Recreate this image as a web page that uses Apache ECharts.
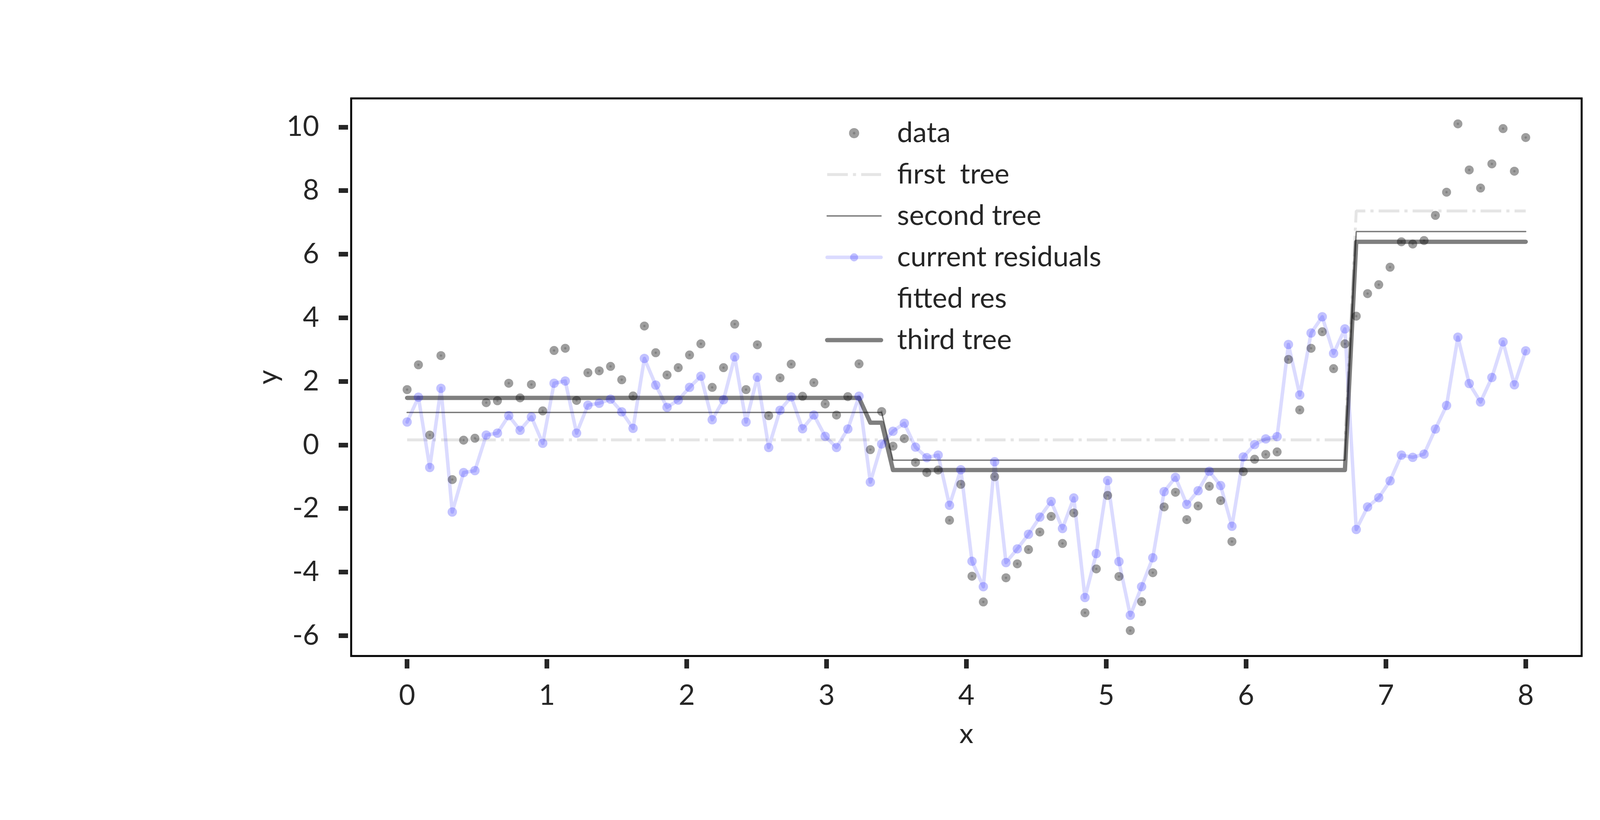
<!DOCTYPE html>
<html>
<head>
<meta charset="utf-8">
<script src="https://cdn.jsdelivr.net/npm/echarts@6/dist/echarts.min.js"></script>
<style>
html,body{margin:0;padding:0;background:#fff;}
#chart{width:4500px;height:2100px;}
</style>
</head>
<body>
<div id="chart"></div>
<script>
// x positions of the samples
const xs = [0,0.081,0.162,0.242,0.323,0.404,0.485,0.566,0.646,0.727,
0.808,0.889,0.970,1.051,1.131,1.212,1.293,1.374,1.455,1.535,
1.616,1.697,1.778,1.859,1.939,2.020,2.101,2.182,2.263,2.343,
2.424,2.505,2.586,2.667,2.747,2.828,2.909,2.990,3.071,3.152,
3.232,3.313,3.394,3.475,3.556,3.636,3.717,3.798,3.879,3.960,
4.040,4.121,4.202,4.283,4.364,4.444,4.525,4.606,4.687,4.768,
4.848,4.929,5.010,5.091,5.172,5.253,5.333,5.414,5.495,5.576,
5.657,5.737,5.818,5.899,5.980,6.061,6.141,6.222,6.303,6.384,
6.465,6.545,6.626,6.707,6.788,6.869,6.949,7.030,7.111,7.192,
7.273,7.354,7.434,7.515,7.596,7.677,7.758,7.838,7.919,8.000];

// observed data
const dataY = [1.74,2.52,0.31,2.81,-1.09,0.15,0.21,1.33,1.39,1.94,
1.48,1.90,1.07,2.97,3.04,1.40,2.27,2.33,2.47,2.05,
1.54,3.74,2.90,2.20,2.43,2.83,3.18,1.81,2.43,3.80,
1.74,3.15,0.92,2.11,2.54,1.53,1.96,1.29,0.94,1.52,
2.55,-0.15,1.05,-0.04,0.20,-0.55,-0.87,-0.79,-2.37,-1.24,
-4.13,-4.94,-1.00,-4.18,-3.74,-3.29,-2.74,-2.25,-3.10,-2.14,
-5.28,-3.90,-1.59,-4.14,-5.84,-4.93,-4.02,-1.95,-1.49,-2.35,
-1.92,-1.30,-1.75,-3.04,-0.84,-0.45,-0.30,-0.22,2.69,1.10,
3.04,3.56,2.40,3.18,4.05,4.76,5.04,5.59,6.39,6.32,
6.43,7.22,7.95,10.10,8.65,8.08,8.84,9.95,8.61,9.67];

// current residuals
const residY = [0.72,1.50,-0.71,1.78,-2.11,-0.87,-0.81,0.31,0.37,0.92,
0.46,0.88,0.05,1.94,2.01,0.37,1.25,1.31,1.44,1.04,
0.52,2.72,1.88,1.18,1.41,1.81,2.16,0.79,1.42,2.77,
0.72,2.13,-0.08,1.09,1.51,0.51,0.94,0.27,-0.08,0.50,
1.53,-1.17,0.03,0.43,0.68,-0.07,-0.40,-0.32,-1.90,-0.78,
-3.66,-4.46,-0.53,-3.70,-3.27,-2.81,-2.27,-1.78,-2.63,-1.67,
-4.80,-3.42,-1.12,-3.67,-5.36,-4.46,-3.55,-1.47,-1.02,-1.87,
-1.44,-0.83,-1.28,-2.56,-0.38,0.01,0.19,0.26,3.16,1.57,
3.52,4.03,2.88,3.65,-2.66,-1.95,-1.66,-1.13,-0.32,-0.39,
-0.29,0.50,1.24,3.39,1.93,1.35,2.12,3.24,1.89,2.96];

// step fits (breakpoints)
const firstTreeX = [0, 6.707, 6.788, 8];
const firstTreeY = [0.16, 0.16, 7.36, 7.36];
const secondTreeX = [0, 3.394, 3.475, 6.707, 6.788, 8];
const secondTreeY = [1.02, 1.02, -0.48, -0.48, 6.71, 6.71];
const thirdTreeX = [0, 3.232, 3.313, 3.394, 3.475, 6.707, 6.788, 8];
const thirdTreeY = [1.48, 1.48, 0.70, 0.70, -0.79, -0.79, 6.39, 6.39];

// axis ticks
const xTicks = [0,1,2,3,4,5,6,7,8];
const yTicks = [-6,-4,-2,0,2,4,6,8,10];

const zip = (a, b) => a.map((v, i) => [v, b[i]]);

const FONT = 'Lato';
const TXT = '#262626';
const FS = 72;

const chart = echarts.init(document.getElementById('chart'), null, {renderer: 'canvas'});

const dotColor = {
  type: 'radial', x: 0.5, y: 0.5, r: 0.5,
  colorStops: [
    {offset: 0, color: 'rgba(0,0,0,0.62)'},
    {offset: 0.22, color: 'rgba(0,0,0,0.62)'},
    {offset: 0.3, color: 'rgba(0,0,0,0.48)'},
    {offset: 1, color: 'rgba(0,0,0,0.48)'}
  ]
};

const option = {
  animation: false,
  backgroundColor: '#ffffff',
  grid: {
    left: 899, top: 252, width: 3150, height: 1428,
    show: true, borderColor: '#000', borderWidth: 5, backgroundColor: 'transparent'
  },
  xAxis: {
    type: 'value', min: -0.4, max: 8.4, offset: 8, position: 'bottom',
    axisLine: {show: false, onZero: false},
    splitLine: {show: false},
    axisTick: {show: true, customValues: xTicks, length: 24, lineStyle: {color: TXT, width: 12}},
    axisLabel: {customValues: xTicks, fontSize: FS, fontFamily: FONT, color: TXT, margin: 58},
    name: 'x', nameLocation: 'middle', nameGap: 156,
    nameTextStyle: {fontSize: FS, fontFamily: FONT, color: TXT}
  },
  yAxis: {
    type: 'value', min: -6.64, max: 10.9, offset: 8, position: 'left',
    axisLine: {show: false, onZero: false},
    splitLine: {show: false},
    axisTick: {show: true, customValues: yTicks, length: 24, lineStyle: {color: TXT, width: 12}},
    axisLabel: {customValues: yTicks, fontSize: FS, fontFamily: FONT, color: TXT, margin: 74},
    name: 'y', nameLocation: 'middle', nameGap: 148, nameRotate: 90,
    nameTextStyle: {fontSize: FS, fontFamily: FONT, color: TXT}
  },
  legend: {
    orient: 'vertical', left: 2112, top: 301, padding: 0,
    itemWidth: 138, itemHeight: 26, itemGap: 26,
    selectedMode: false,
    textStyle: {fontSize: FS, fontFamily: FONT, color: TXT, lineHeight: 80, padding: [0, 0, 0, 36]},
    lineStyle: {width: 'inherit', type: 'inherit', cap: 'inherit'},
    data: [
      {name: 'data', icon: 'circle'},
      {name: 'first  tree'},
      {name: 'second tree'},
      {name: 'current residuals'},
      {name: 'fitted res'},
      {name: 'third tree'}
    ]
  },
  series: [
    {
      name: 'data', type: 'scatter', data: zip(xs, dataY),
      symbol: 'circle', symbolSize: 23,
      itemStyle: {color: dotColor}, z: 2
    },
    {
      name: 'first  tree', type: 'line', data: zip(firstTreeX, firstTreeY),
      showSymbol: false, symbol: 'none', itemStyle: {color: 'rgba(0,0,0,0.1)', opacity: 0},
      lineStyle: {color: 'rgba(0,0,0,0.1)', width: 7.5, type: [53, 13, 8, 13], cap: 'butt'}, z: 2
    },
    {
      name: 'second tree', type: 'line', data: zip(secondTreeX, secondTreeY),
      showSymbol: false, symbol: 'none', itemStyle: {color: 'rgba(0,0,0,0.52)', opacity: 0},
      lineStyle: {color: 'rgba(0,0,0,0.52)', width: 3.5, cap: 'round'}, z: 2
    },
    {
      name: 'current residuals', type: 'line', data: zip(xs, residY),
      symbol: 'circle', symbolSize: 24, showSymbol: true,
      itemStyle: {color: 'rgba(0,0,255,0.24)'},
      lineStyle: {color: 'rgba(0,0,255,0.14)', width: 9, cap: 'round', join: 'round'}, z: 2
    },
    {
      name: 'fitted res', type: 'line', data: [],
      showSymbol: false, symbol: 'none', itemStyle: {color: '#ffffff', opacity: 0},
      lineStyle: {color: '#ffffff', width: 0, opacity: 0}, z: 2
    },
    {
      name: 'third tree', type: 'line', data: zip(thirdTreeX, thirdTreeY),
      showSymbol: false, symbol: 'none', itemStyle: {color: 'rgba(0,0,0,0.5)', opacity: 0},
      lineStyle: {color: 'rgba(0,0,0,0.5)', width: 11, cap: 'round', join: 'round'}, z: 2
    }
  ]
};

chart.setOption(option);
</script>
</body>
</html>
